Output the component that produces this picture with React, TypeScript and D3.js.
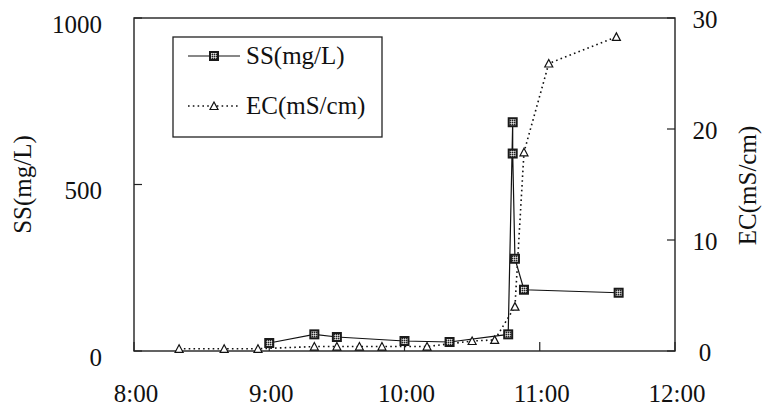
import React from "react";
import * as d3 from "d3";

const ssTimes = ["9:00", "9:20", "9:30", "10:00", "10:20", "10:46", "10:48", "10:48", "10:49", "10:53", "11:35"];
const ssValues = [24, 50, 42, 30, 27, 50, 687, 593, 277, 184, 175];

const ecTimes = ["8:20", "8:40", "8:55", "9:20", "9:30", "9:40", "9:50", "10:10", "10:30", "10:40", "10:49", "10:53", "11:04", "11:34"];
const ecValues = [0.2, 0.2, 0.2, 0.4, 0.4, 0.4, 0.4, 0.4, 0.9, 1.0, 4.0, 17.9, 25.9, 28.3];

const xTickLabels = ["8:00", "9:00", "10:00", "11:00", "12:00"];
const leftTicks = [0, 500, 1000];
const rightTicks = [0, 10, 20, 30];

const W = 763;
const H = 407;
const L = 134;
const R = 675;
const T = 18;
const B = 351;
const FONT = "Liberation Serif, DejaVu Serif, serif";
const txt = { fontFamily: FONT, fontSize: "25px" };

const toMin = (s: string) => {
  const [h, m] = s.split(":").map(Number);
  return h * 60 + m;
};

export default function App() {
  const x = d3.scaleLinear().domain([480, 720]).range([L, R]);
  const yL = d3.scaleLinear().domain([0, 1000]).range([B, T]);
  const yR = d3.scaleLinear().domain([0, 30]).range([B, T]);

  const ssPts: [number, number][] = ssTimes.map((t, i) => [x(toMin(t)), yL(ssValues[i])]);
  const ecPts: [number, number][] = ecTimes.map((t, i) => [x(toMin(t)), yR(ecValues[i])]);
  const line = d3.line();

  const square = (cx: number, cy: number, key: any) => (
    <g key={key}>
      <rect x={cx - 5} y={cy - 5} width={10} height={10} fill="#1a1a1a" />
      <rect x={cx - 3} y={cy - 3} width={6} height={6} fill="url(#speckle)" />
    </g>
  );
  const tri = (cx: number, cy: number, key: any) => (
    <path
      key={key}
      d={`M${cx},${cy - 4} L${cx + 4},${cy + 3.5} L${cx - 4},${cy + 3.5} Z`}
      fill="#fff"
      stroke="#111"
      strokeWidth={1.2}
    />
  );

  return (
    <svg width={W} height={H} style={{ position: "absolute", left: 0, top: 0, background: "#fff" }}>
      <defs>
        <pattern id="speckle" width={2} height={2} patternUnits="userSpaceOnUse">
          <rect width={2} height={2} fill="#999" />
          <rect width={1} height={1} fill="#222" />
          <rect x={1} y={1} width={1} height={1} fill="#ddd" />
        </pattern>
      </defs>
      <rect width={W} height={H} fill="#fff" />

      {/* frame */}
      <rect x={L} y={T} width={R - L} height={B - T} fill="none" stroke="#222" strokeWidth={1.4} />

      {/* ticks */}
      {leftTicks.map((v) => (
        <line key={"lt" + v} x1={L} x2={L + 8} y1={yL(v)} y2={yL(v)} stroke="#222" strokeWidth={1.2} />
      ))}
      {rightTicks.map((v) => (
        <line key={"rt" + v} x1={R - 8} x2={R} y1={yR(v)} y2={yR(v)} stroke="#222" strokeWidth={1.2} />
      ))}
      {xTickLabels.map((t) => (
        <line key={"xt" + t} x1={x(toMin(t))} x2={x(toMin(t))} y1={B} y2={B - 9} stroke="#222" strokeWidth={1.2} />
      ))}

      {/* tick labels */}
      {leftTicks.map((v) => (
        <text key={"ll" + v} x={102} y={yL(v) + 14.5} style={txt} textAnchor="end" fill="#111">
          {v}
        </text>
      ))}
      {rightTicks.map((v) => (
        <text key={"rl" + v} x={705} y={yR(v) + 9.5} style={txt} textAnchor="middle" fill="#111">
          {v}
        </text>
      ))}
      {xTickLabels.map((t) => (
        <text key={"xl" + t} x={x(toMin(t)) + 2} y={402} style={txt} textAnchor="middle" fill="#111">
          {t}
        </text>
      ))}

      {/* axis titles */}
      <text transform={`translate(31,${(T + B) / 2}) rotate(-90)`} style={txt} textAnchor="middle" fill="#111">
        SS(mg/L)
      </text>
      <text transform={`translate(756,${(T + B) / 2 + 1}) rotate(-90)`} style={txt} textAnchor="middle" fill="#111">
        EC(mS/cm)
      </text>

      {/* EC series */}
      <path d={line(ecPts) || ""} fill="none" stroke="#111" strokeWidth={1.6} strokeDasharray="1.6,3.2" />
      {/* SS series */}
      <path d={line(ssPts) || ""} fill="none" stroke="#111" strokeWidth={1.2} />
      {ecPts.map((p, i) => tri(p[0], p[1], "e" + i))}
      {ssPts.map((p, i) => square(p[0], p[1], "s" + i))}

      {/* legend */}
      <rect x={173} y={37} width={209} height={100} fill="#fff" stroke="#222" strokeWidth={1.3} />
      <line x1={188} x2={240} y1={56} y2={56} stroke="#111" strokeWidth={1.2} />
      {square(214, 56, "ls")}
      <text x={246} y={64} style={txt} fill="#111">
        SS(mg/L)
      </text>
      <line x1={188} x2={240} y1={106} y2={106} stroke="#111" strokeWidth={1.6} strokeDasharray="1.6,3.2" />
      {tri(214, 106, "le")}
      <text x={246} y={114} style={txt} fill="#111">
        EC(mS/cm)
      </text>
    </svg>
  );
}
